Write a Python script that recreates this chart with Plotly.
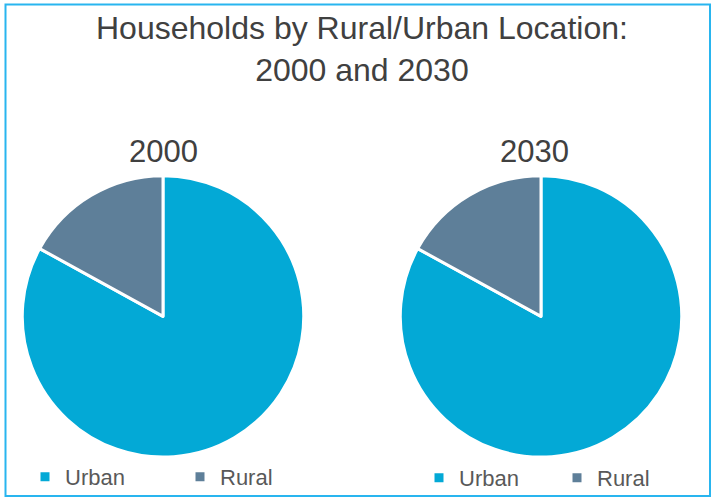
import plotly.graph_objects as go

labels_2000 = ["Urban", "Rural"]
labels_2030 = ["Urban ", "Rural "]
values_2000 = [83, 17]
values_2030 = [83, 17]
years = ["2000", "2030"]
colors = ["#03A9D6", "#5E7F99"]

W, H = 712, 499

def px_x(x):
    return x / W

def px_y(y):
    return 1 - y / H

D = 282
centers = [(163, 317), (541, 317)]

fig = go.Figure()
for i, (labs, vals, yr) in enumerate(zip([labels_2000, labels_2030],
                                         [values_2000, values_2030], years)):
    cx, cy = centers[i]
    fig.add_trace(go.Pie(
        labels=labs, values=vals, sort=False, direction="clockwise",
        rotation=0, textinfo="none", hoverinfo="label+percent",
        marker=dict(colors=colors, line=dict(color="white", width=3)),
        domain=dict(x=[px_x(cx - D / 2), px_x(cx + D / 2)],
                    y=[px_y(cy + D / 2), px_y(cy - D / 2)]),
        legend="legend" if i == 0 else "legend2",
        name=yr,
    ))

fig.add_annotation(text="Households by Rural/Urban Location:<br>2000 and 2030",
                   x=px_x(362), y=px_y(49), xref="paper", yref="paper",
                   xanchor="center", yanchor="middle", showarrow=False,
                   font=dict(family="Liberation Sans, Arial, sans-serif", size=32, color="#404040"))
for yr, (x, y) in zip(years, [(163, 152), (534, 152)]):
    fig.add_annotation(text=yr, x=px_x(x), y=px_y(y), xref="paper", yref="paper",
                       xanchor="center", yanchor="middle", showarrow=False,
                       font=dict(family="Liberation Sans, Arial, sans-serif", size=31, color="#404040"))

fig.add_shape(type="rect", xref="paper", yref="paper",
              x0=px_x(5.5), x1=px_x(710), y0=px_y(497), y1=px_y(4.5),
              line=dict(color="#29B5EF", width=2))

legend_font = dict(family="Liberation Sans, Arial, sans-serif", size=22, color="#595959")
fig.update_layout(
    width=W, height=H, margin=dict(l=0, r=0, t=0, b=0),
    paper_bgcolor="white", plot_bgcolor="white",
    legend=dict(orientation="h", x=px_x(25), y=px_y(477), xanchor="left", yanchor="middle",
                font=legend_font, itemwidth=30, entrywidth=110, entrywidthmode="pixels",
                bgcolor="rgba(0,0,0,0)"),
    legend2=dict(orientation="h", x=px_x(419), y=px_y(479), xanchor="left", yanchor="middle",
                 font=legend_font, itemwidth=30, entrywidth=93, entrywidthmode="pixels",
                 bgcolor="rgba(0,0,0,0)"),
    showlegend=True,
)

fig.write_html("out.html")
